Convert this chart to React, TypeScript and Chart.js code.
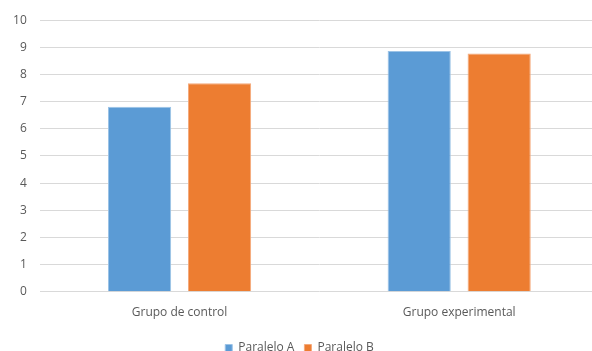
import React, { useEffect, useRef } from "react";
import { Chart, registerables } from "chart.js";

Chart.register(...registerables);

const categories = ["Grupo de control", "Grupo experimental"];
const seriesNames = ["Paralelo A", "Paralelo B"];
const paraleloA = [6.81, 8.87];
const paraleloB = [7.68, 8.77];
const colors = ["#5B9BD5", "#ED7D31"];

export default function App() {
  const ref = useRef<HTMLCanvasElement | null>(null);
  useEffect(() => {
    document.body.style.overflow = "hidden";
    const font = { family: "'Open Sans', 'Liberation Sans', sans-serif", size: 12 };
    const chart = new Chart(ref.current!, {
      type: "bar",
      data: {
        labels: categories,
        datasets: [
          { label: seriesNames[0], data: paraleloA, backgroundColor: colors[0], borderColor: "#9cc3e6", borderWidth: 1 },
          { label: seriesNames[1], data: paraleloB, backgroundColor: colors[1], borderColor: "#f4a97a", borderWidth: 1 },
        ],
      },
      options: {
        animation: false,
        responsive: true,
        maintainAspectRatio: false,
        layout: { padding: { top: 17, right: 1, bottom: -13, left: 0 } },
        datasets: { bar: { categoryPercentage: 0.572, barPercentage: 0.79 } },
        scales: {
          x: {
            grid: { display: false, drawTicks: false },
            border: { display: false },
            ticks: { color: "#595959", font, padding: 14 },
            afterFit: (s: any) => { s.height = 40.3; },
          },
          y: {
            min: 0,
            max: 10,
            grid: { color: "#D9D9D9", drawTicks: false, lineWidth: 1 },
            border: { display: false },
            ticks: { stepSize: 1, color: "#595959", font, padding: 13 },
            afterFit: (s: any) => { s.width = 39.75; },
          },
        },
        plugins: {
          legend: {
            position: "bottom",
            labels: { color: "#595959", font, boxWidth: 7, boxHeight: 7, padding: 10 },
          },
          tooltip: { enabled: false },
        },
      },
    });
    return () => chart.destroy();
  }, []);
  return (
    <div style={{ position: "absolute", left: 0, top: 0, width: 592, height: 351, overflow: "hidden", background: "#fff" }}>
      <div style={{ position: "relative", width: 600, height: 351 }}>
        <canvas ref={ref} />
      </div>
    </div>
  );
}
